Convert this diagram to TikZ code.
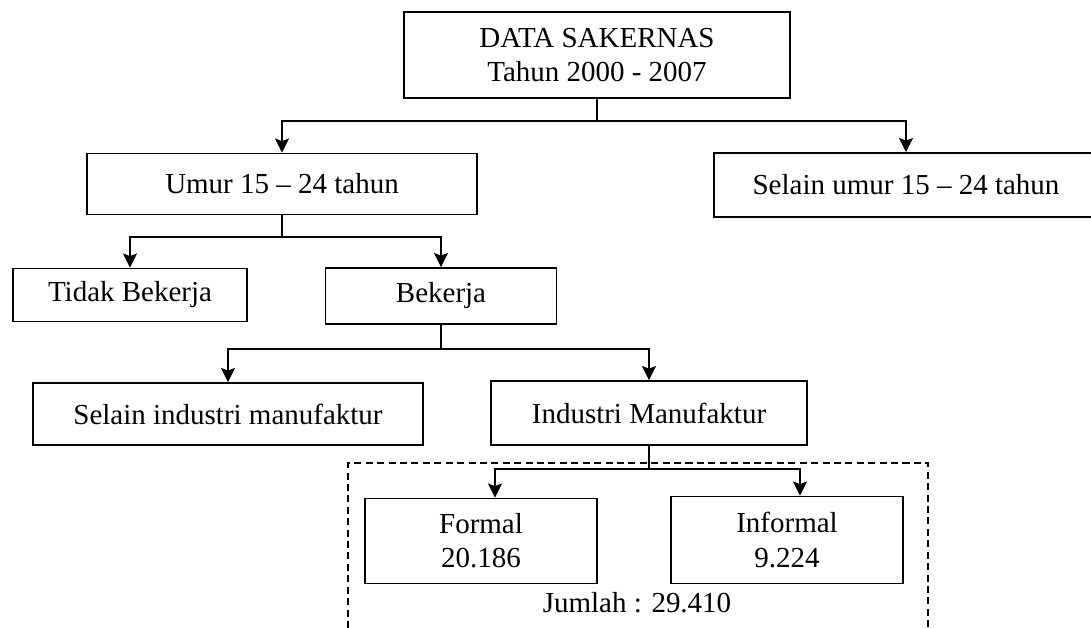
\documentclass[tikz,border=0pt]{standalone}
\usepackage{fontspec}
\setmainfont{Liberation Serif}
\usetikzlibrary{arrows.meta}

\begin{document}
\begin{tikzpicture}[x=0.02cm, y=-0.02cm, >={Stealth[length=8pt, width=8pt, inset=1.5pt]}, line width=1.1pt, every node/.style={font=\fontsize{16.5}{19.5}\selectfont}, box/.style={draw, rectangle, align=center, inner sep=0pt}, grp/.style={line width=0.8pt, dash pattern=on 4pt off 2.5pt}]
	\clip (0,0) rectangle (1091,628);
	\node[box, minimum width=7.72cm, minimum height=1.72cm] (data) at (597,55) {DATA SAKERNAS\\Tahun 2000 - 2007};
	\node[box, minimum width=7.8cm, minimum height=1.22cm] (umur) at (282,184) {Umur 15 -- 24 tahun};
	\node[box, minimum width=7.7cm, minimum height=1.28cm] (nonumur) at (906,185) {Selain umur 15 -- 24 tahun};
	\node[box, minimum width=4.68cm, minimum height=1.06cm] (tidak) at (130,295) {Tidak Bekerja};
	\node[box, minimum width=4.62cm, minimum height=1.12cm] (kerja) at (441,296) {Bekerja};
	\node[box, minimum width=7.8cm, minimum height=1.24cm] (nonmanuf) at (228,414) {Selain industri manufaktur};
	\node[box, minimum width=6.32cm, minimum height=1.28cm] (manuf) at (649,413) {Industri Manufaktur};
	\node[box, minimum width=4.64cm, minimum height=1.7cm] (formal) at (481,541) {Formal\\20.186};
	\node[box, minimum width=4.64cm, minimum height=1.74cm] (informal) at (787,540) {Informal\\9.224};
	\node (jumlah) at (637,603) {Jumlah : 29.410};

	\coordinate (j1) at (597,121);
	\coordinate (j2) at (282,237);
	\coordinate (j3) at (441,349);
	\coordinate (j4) at (649,469);

	\draw (data.south) -- (j1);
	\draw[->] (j1) -| (umur.north);
	\draw[->] (j1) -| (nonumur.north);
	\draw (umur.south) -- (j2);
	\draw[->] (j2) -| (tidak.north);
	\draw[->] (j2) -| (kerja.north);
	\draw (kerja.south) -- (j3);
	\draw[->] (j3) -| (nonmanuf.north);
	\draw[->] (j3) -| (manuf.north);
	\draw (manuf.south) -- (j4);
	\draw[->] (j4) -| ([xshift=0.28cm]formal.north);
	\draw[->] (j4) -| ([xshift=0.26cm]informal.north);

	\draw[grp] (348,628) |- (928,463) -- (928,628);
\end{tikzpicture}
\end{document}
